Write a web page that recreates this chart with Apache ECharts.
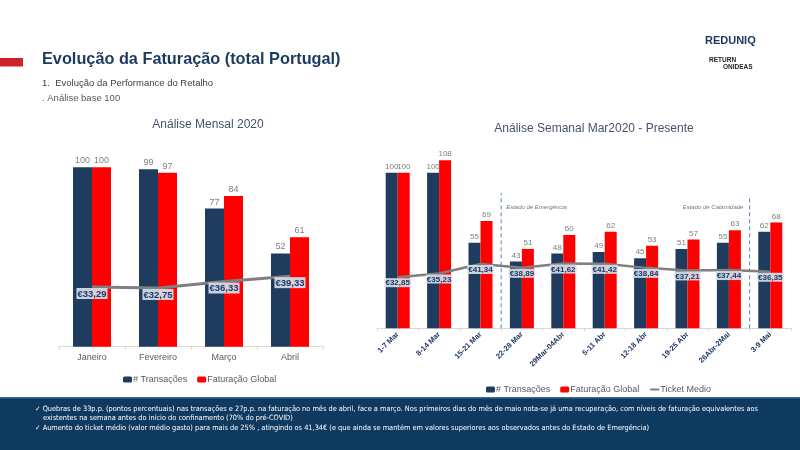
<!DOCTYPE html>
<html>
<head>
<meta charset="utf-8">
<script src="https://cdn.jsdelivr.net/npm/echarts@6/dist/echarts.min.js"></script>
<style>
  html, body { margin: 0; padding: 0; background: #fff; }
  #main { width: 800px; height: 450px; }
</style>
</head>
<body>
<div id="main"></div>
<script>
let chart = echarts.init(document.getElementById('main'));

// Monthly analysis (base 100)
let months = ['Janeiro', 'Fevereiro', 'Março', 'Abril'];
let monthTrans = [100, 99, 77, 52];
let monthFat = [100, 97, 84, 61];
let monthTicket = [33.29, 32.75, 36.33, 39.33];

// Weekly analysis Mar2020 - present
let weeks = ['1-7 Mar', '8-14 Mar', '15-21 Mar', '22-28 Mar', '29Mar-04Abr', '5-11 Abr', '12-18 Abr', '19-25 Abr', '26Abr-2Mai', '3-9 Mai'];
let weekTrans = [100, 100, 55, 43, 48, 49, 45, 51, 55, 62];
let weekFat = [100, 108, 69, 51, 60, 62, 53, 57, 63, 68];
let weekTicket = [32.85, 35.23, 41.34, 38.89, 41.62, 41.42, 38.84, 37.21, 37.44, 36.35];

// Periods marked on the weekly chart (boundary between categories)
let emergencyAt = 3;
let calamityAt = 9;

const NAVY = '#1f3b5e';
const RED = '#ff0000';
const GRAY = '#7f7f7f';
const FONT = 'Liberation Sans, Arial, sans-serif';
const NARROW = 'Liberation Sans Narrow, DejaVu Sans Condensed, sans-serif';

function euro(v) {
    return '€' + v.toFixed(2).replace('.', ',');
}

function ticketLabel(size) {
    return {
        show: true,
        position: 'bottom',
        distance: 1,
        formatter: p => euro(p.value),
        color: '#1f3864',
        fontWeight: 'bold',
        fontSize: size,
        fontFamily: FONT,
        backgroundColor: 'rgba(214,224,236,0.92)',
        padding: [1, 1, 0, 1]
    };
}

function barLabel(size) {
    return { show: true, position: 'top', distance: 2, color: GRAY, fontSize: size, fontFamily: FONT };
}

let option = {
    animation: false,
    textStyle: { fontFamily: FONT },
    title: [
        { text: 'Análise Mensal 2020', left: 203, top: 114, textAlign: 'center',
          textStyle: { fontSize: 12, fontWeight: 'normal', color: '#44546a', fontFamily: FONT } },
        { text: 'Análise Semanal Mar2020 - Presente', left: 589, top: 118, textAlign: 'center',
          textStyle: { fontSize: 12, fontWeight: 'normal', color: '#44546a', fontFamily: FONT } }
    ],
    legend: [
        { data: ['# Transações', 'Faturação Global'], left: 118, top: 370,
          itemWidth: 9, itemHeight: 6, itemGap: 10,
          textStyle: { color: '#595959', fontSize: 9, padding: [0, 0, 0, -4] } },
        { data: ['# Transações', 'Faturação Global', { name: 'Ticket Medio', itemStyle: { opacity: 0 } }],
          left: 481, top: 380,
          itemWidth: 9, itemHeight: 6, itemGap: 10,
          textStyle: { color: '#595959', fontSize: 9, padding: [0, 0, 0, -4] } }
    ],
    grid: [
        { left: 59, right: 477, top: 149.4, bottom: 103.3 },
        { left: 377, right: 9, top: 141.6, bottom: 121.7 }
    ],
    xAxis: [
        { type: 'category', gridIndex: 0, data: months,
          axisLine: { lineStyle: { color: '#d9d9d9' } },
          axisTick: { show: true, length: 3, lineStyle: { color: '#d9d9d9' } },
          axisLabel: { color: '#595959', fontSize: 9, margin: 6 } },
        { type: 'category', gridIndex: 1, data: weeks,
          axisLine: { lineStyle: { color: '#d9d9d9' } },
          axisTick: { show: true, length: 3, lineStyle: { color: '#d9d9d9' } },
          axisLabel: { color: '#1f3864', fontSize: 7.5, fontWeight: 'bold', rotate: 45, margin: 5, interval: 0 } },
        { type: 'value', gridIndex: 1, min: 0, max: weeks.length, show: false }
    ],
    yAxis: [
        { type: 'value', gridIndex: 0, min: 0, max: 110, show: false },
        { type: 'value', gridIndex: 1, min: 0, max: 120, show: false }
    ],
    series: [
        { name: '# Transações', type: 'bar', xAxisIndex: 0, yAxisIndex: 0, data: monthTrans,
          barWidth: 19, barGap: '0%', itemStyle: { color: NAVY }, label: barLabel(9) },
        { name: 'Faturação Global', type: 'bar', xAxisIndex: 0, yAxisIndex: 0, data: monthFat,
          barWidth: 19, barGap: '0%', itemStyle: { color: RED }, label: barLabel(9) },
        { name: 'Ticket Medio', type: 'line', xAxisIndex: 0, yAxisIndex: 0, data: monthTicket,
          symbol: 'circle', symbolSize: 0.01, showSymbol: true,
          lineStyle: { color: GRAY, width: 3 }, itemStyle: { color: GRAY },
          label: ticketLabel(9.5), z: 5 },

        { name: '# Transações', type: 'bar', xAxisIndex: 1, yAxisIndex: 1, data: weekTrans,
          barWidth: 12, barGap: '0%', itemStyle: { color: NAVY }, label: barLabel(8) },
        { name: 'Faturação Global', type: 'bar', xAxisIndex: 1, yAxisIndex: 1, data: weekFat,
          barWidth: 12, barGap: '0%', itemStyle: { color: RED }, label: barLabel(8) },
        { name: 'Ticket Medio', type: 'line', xAxisIndex: 1, yAxisIndex: 1, data: weekTicket,
          symbol: 'circle', symbolSize: 0.01, showSymbol: true,
          lineStyle: { color: GRAY, width: 2.5 }, itemStyle: { color: GRAY },
          label: ticketLabel(8), z: 5 },

        // dashed period separators
        { type: 'line', xAxisIndex: 2, yAxisIndex: 1, silent: true, symbol: 'none',
          data: [[emergencyAt, 0], [emergencyAt, 87]],
          lineStyle: { color: '#5f86b0', width: 1, type: [4, 3] } },
        { type: 'line', xAxisIndex: 2, yAxisIndex: 1, silent: true, symbol: 'none',
          data: [[calamityAt, 0], [calamityAt, 84.5]],
          lineStyle: { color: '#5f86b0', width: 1, type: [4, 3] } },
        { type: 'scatter', xAxisIndex: 2, yAxisIndex: 1, silent: true, symbolSize: 0,
          data: [
              { value: [emergencyAt + 0.12, 78], label: { position: 'right', formatter: 'Estado de Emergência' } },
              { value: [calamityAt - 0.15, 78], label: { position: 'left', formatter: 'Estado de Calamidade' } }
          ],
          label: { show: true, distance: 0, fontSize: 6, fontStyle: 'italic', color: '#44546a' } }
    ],
    graphic: [
        { type: 'rect', left: 0, top: 58, shape: { width: 23, height: 8.5 }, style: { fill: '#cc2229' } },
        { type: 'text', left: 42, top: 52, style: { text: 'Evolução da Faturação (total Portugal)',
          font: 'bold 16.3px ' + FONT, fill: '#1b3a5e' } },
        { type: 'text', left: 42, top: 78, style: { text: '1.  Evolução da Performance do Retalho',
          font: '9.5px ' + FONT, fill: '#404040' } },
        { type: 'text', left: 42, top: 93, style: { text: '. Análise base 100',
          font: '9.5px ' + FONT, fill: '#595959' } },
        { type: 'text', left: 705, top: 35, style: { text: 'REDUNIQ',
          font: 'bold 11px ' + FONT, fill: '#1f3864' } },
        { type: 'text', left: 709, top: 57, style: { text: 'RETURN',
          font: 'bold 6.5px ' + FONT, fill: '#222' } },
        { type: 'text', left: 723, top: 64, style: { text: 'ONIDEAS',
          font: 'bold 6.5px ' + FONT, fill: '#222' } },
        { type: 'rect', left: 0, top: 397, shape: { width: 800, height: 53 }, style: { fill: '#0f3a60' } },
        { type: 'rect', left: 0, top: 397, shape: { width: 800, height: 1.5 }, style: { fill: '#3d6a93' } },
        { type: 'text', left: 35, top: 406, style: {
          text: '✓ Quebras de 33p.p. (pontos percentuais) nas transações e 27p.p. na faturação no mês de abril, face a março. Nos primeiros dias do mês de maio nota-se já uma recuperação, com níveis de faturação equivalentes aos',
          font: '7.35px ' + NARROW, fill: '#fff' } },
        { type: 'text', left: 43, top: 415, style: {
          text: 'existentes na semana antes do início do confinamento (70% do pré-COVID)',
          font: '7.35px ' + NARROW, fill: '#fff' } },
        { type: 'text', left: 35, top: 425, style: {
          text: '✓ Aumento do ticket médio (valor médio gasto) para mais de 25% , atingindo os 41,34€ (e que ainda se mantém em valores superiores aos observados antes do Estado de Emergência)',
          font: '7.35px ' + NARROW, fill: '#fff' } }
    ]
};

chart.setOption(option);
</script>
</body>
</html>
